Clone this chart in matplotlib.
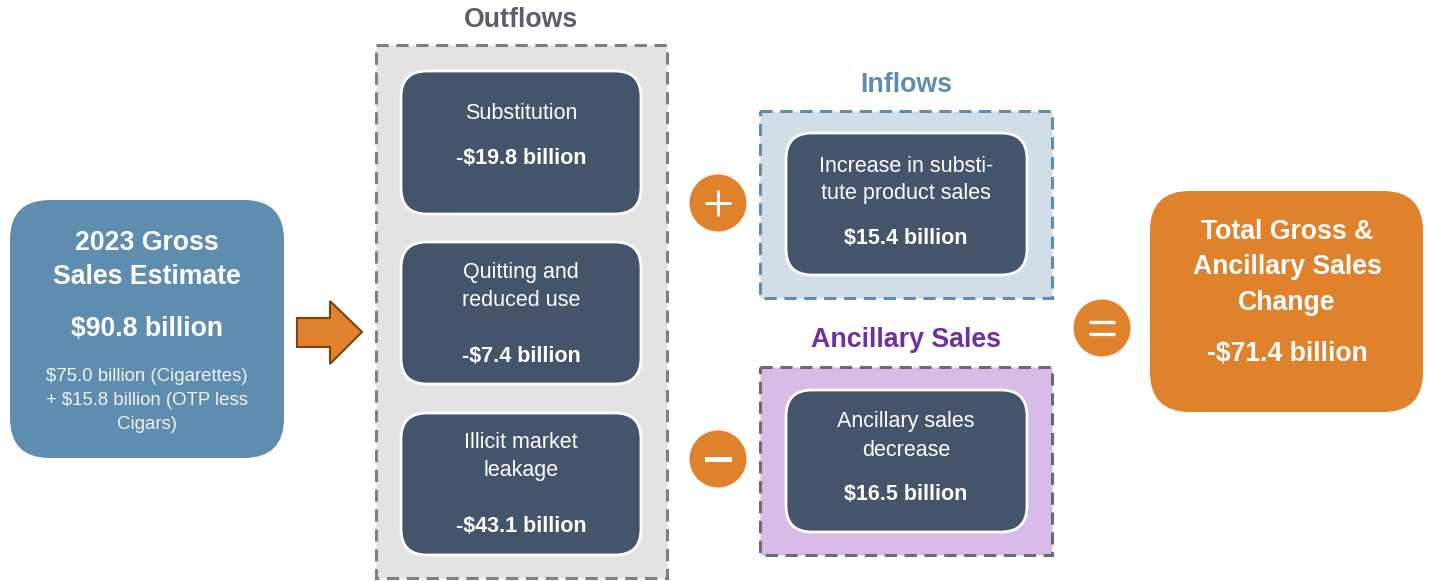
import matplotlib
matplotlib.use("Agg")
import matplotlib.pyplot as plt
from matplotlib.patches import FancyBboxPatch, Rectangle, Circle, Polygon

plt.rcParams['font.family'] = ['Liberation Sans', 'DejaVu Sans']

# ---- data ----
start_title = ["2023 Gross", "Sales Estimate"]
start_value = "$90.8 billion"
start_detail = ["$75.0 billion (Cigarettes)", "+ $15.8 billion (OTP less", "Cigars)"]

outflow_labels = [["Substitution"], ["Quitting and", "reduced use"], ["Illicit market", "leakage"]]
outflow_values = [-19.8, -7.4, -43.1]

inflow_label = ["Increase in substi-", "tute product sales"]
inflow_value = 15.4
ancillary_label = ["Ancillary sales", "decrease"]
ancillary_value = 16.5

total_title = ["Total Gross &", "Ancillary Sales", "Change"]
total_value = -71.4

group_titles = ["Outflows", "Inflows", "Ancillary Sales"]


def fmt(v):
    return ("-" if v < 0 else "") + "$%.1f billion" % abs(v)


W, H = 1429, 581
fig = plt.figure(figsize=(W / 100, H / 100), dpi=100)
ax = fig.add_axes([0, 0, 1, 1])
ax.set_xlim(0, W)
ax.set_ylim(H, 0)
ax.axis('off')

BLUE = '#5F8DB0'
NAVY = '#44546A'
ORANGE = '#E0812B'
GRAY_T = '#5A5F69'

BIG = 19.2
TITLE = 19.3
INNER = 15.5
SMALL = 13.4


def rbox(x0, y0, x1, y1, fc, r=28, ec='none', lw=0, z=2):
    p = FancyBboxPatch((x0, y0), x1 - x0, y1 - y0,
                       boxstyle="round,pad=0,rounding_size=%g" % r,
                       fc=fc, ec=ec, lw=lw, zorder=z)
    ax.add_patch(p)


def dbox(x0, y0, x1, y1, fc, ec):
    ax.add_patch(Rectangle((x0, y0), x1 - x0, y1 - y0, fc=fc, ec=ec, lw=2.2,
                           ls=(0, (4, 2.5)), zorder=1))


def txt(x, y, s, size, bold=False, color='white'):
    ax.text(x, y, s, ha='center', va='baseline', fontsize=size,
            fontweight='bold' if bold else 'normal', color=color, zorder=5)


# ---- left box ----
rbox(10, 200, 284, 458, BLUE, r=40)
cx = 147
for s, y in zip(start_title, [249.5, 284.5]):
    txt(cx, y, s, BIG, True)
txt(cx, 335.7, start_value, BIG, True)
for s, y in zip(start_detail, [380.7, 405, 429.3]):
    txt(cx, y, s, SMALL, False, '#F2F2F2')

# arrow
ax.add_patch(Polygon([(297, 318), (330, 318), (330, 301), (362, 332),
                      (330, 364), (330, 347), (297, 347)],
                     closed=True, fc=ORANGE, ec='#7A4512', lw=1.5, zorder=3))

# ---- outflows ----
dbox(376, 45, 667, 578, '#E3E3E3', '#7F7F7F')
txt(521, 26.7, group_titles[0], TITLE, True, GRAY_T)
box_y = [(71, 214), (242, 384), (413, 555)]
label_y = [[119.3], [278.3, 305.7], [448.3, 475.7]]
value_y = [164, 361.7, 531.7]
for (y0, y1), labs, lys, v, vy in zip(box_y, outflow_labels, label_y, outflow_values, value_y):
    rbox(401, y0, 641, y1, NAVY, r=26, ec='white', lw=2)
    for s, y in zip(labs, lys):
        txt(521, y, s, INNER)
    txt(521, vy, fmt(v), INNER, True)

# ---- inflows ----
dbox(760, 111, 1052, 298, '#D1DEE8', BLUE)
txt(906, 91.7, group_titles[1], TITLE, True, BLUE)
rbox(786, 133, 1027, 275, NAVY, r=26, ec='white', lw=2)
for s, y in zip(inflow_label, [171.7, 199.3]):
    txt(906, y, s, INNER)
txt(906, 244.3, fmt(inflow_value), INNER, True)

# ---- ancillary ----
dbox(760, 367, 1052, 555, '#D9BBE9', '#6B6B6B')
txt(906, 347.3, group_titles[2], TITLE, True, '#7030A0')
rbox(786, 390, 1027, 532, NAVY, r=26, ec='white', lw=2)
for s, y in zip(ancillary_label, [427.3, 456]):
    txt(906, y, s, INNER)
txt(906, 500, fmt(ancillary_value), INNER, True)

# ---- operator circles ----
for cxx, cyy in [(718, 203), (718, 459), (1102, 328)]:
    ax.add_patch(Circle((cxx, cyy), 28.5, fc=ORANGE, ec='none', zorder=3))
# plus
ax.plot([705, 731], [203, 203], color='white', lw=2.2, zorder=4, solid_capstyle='butt')
ax.plot([718, 718], [190, 216], color='white', lw=2.2, zorder=4, solid_capstyle='butt')
# minus
ax.add_patch(Rectangle((705, 456.5), 27, 5.5, fc='white', ec='none', zorder=4))
# equals
ax.plot([1089, 1115], [322, 322], color='white', lw=2.4, zorder=4, solid_capstyle='butt')
ax.plot([1089, 1115], [334, 334], color='white', lw=2.4, zorder=4, solid_capstyle='butt')

# ---- total box ----
rbox(1150, 191, 1423, 412, ORANGE, r=40)
for s, y in zip(total_title, [239.3, 274.3, 310]):
    txt(1287, y, s, BIG, True)
txt(1287, 360.7, fmt(total_value), BIG, True)

fig.savefig("out.png", dpi=100, facecolor='white')
